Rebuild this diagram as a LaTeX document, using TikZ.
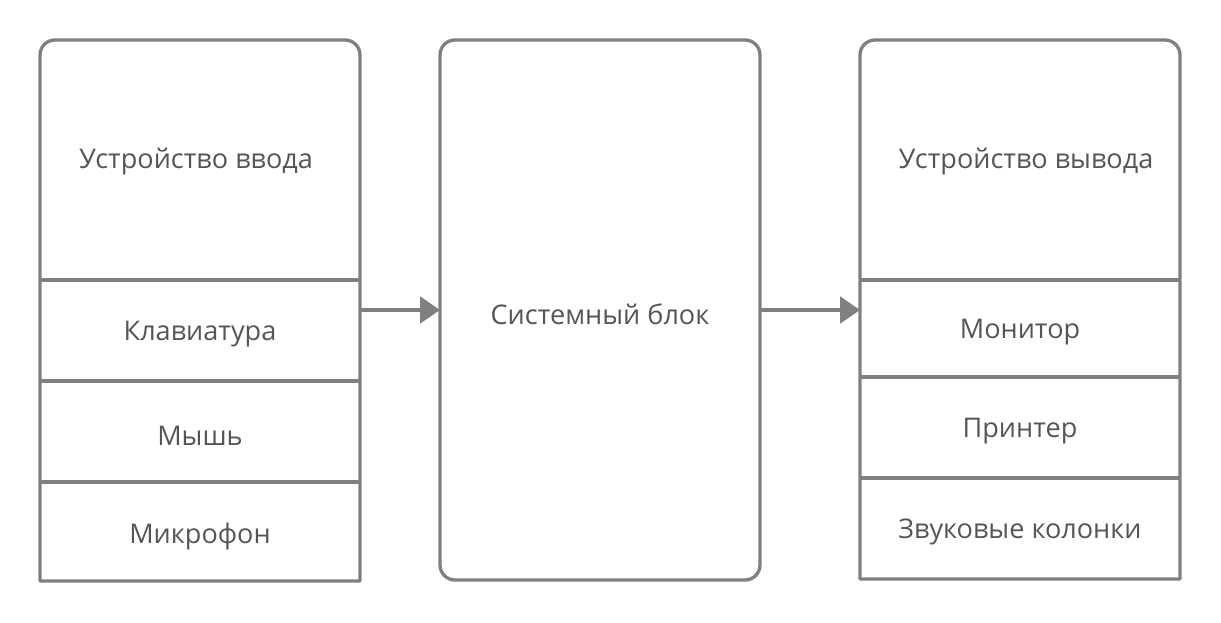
\documentclass[tikz,border=0pt]{standalone}
\usepackage{fontspec}
\setmainfont{Open Sans}
\usetikzlibrary{arrows.meta}
\definecolor{linegray}{HTML}{808080}
\definecolor{textgray}{HTML}{555555}
\tikzset{
  frame/.style={draw=linegray, line width=2.5pt, line join=round},
  lbl/.style={text=textgray, font=\fontsize{20.3}{24}\selectfont, inner sep=0pt, anchor=center},
  conn/.style={draw=linegray, line width=2.5pt, -{Triangle[length=15pt,width=20pt]}},
}
\begin{document}
\begin{tikzpicture}[x=0.75pt,y=-0.75pt]
\useasboundingbox (0,0) rectangle (1221,622);
% left box
\draw[frame] (40,581) -- (40,55) arc[start angle=180,end angle=270,radius=15] -- (345,40) arc[start angle=270,end angle=360,radius=15] -- (360,581) -- cycle;
\draw[frame] (40,280) -- (360,280);
\draw[frame] (40,381) -- (360,381);
\draw[frame] (40,482) -- (360,482);
\coordinate (lin) at (360,310);
% middle box
\draw[frame, rounded corners=11.25pt] (440,40) rectangle (760,580);
\coordinate (min) at (440,310);
\coordinate (mout) at (760,310);
% right box
\draw[frame] (860,579) -- (860,55) arc[start angle=180,end angle=270,radius=15] -- (1165,40) arc[start angle=270,end angle=360,radius=15] -- (1180,579) -- cycle;
\draw[frame] (860,280) -- (1180,280);
\draw[frame] (860,377) -- (1180,377);
\draw[frame] (860,478) -- (1180,478);
\coordinate (rin) at (860,310);
% labels
\node[lbl] (t1) at (196,162) {Устройство ввода};
\node[lbl] (t2) at (200,334) {Клавиатура};
\node[lbl] (t3) at (200,436) {Мышь};
\node[lbl] (t4) at (200,536) {Микрофон};
\node[lbl] (t5) at (600,314) {Системный блок};
\node[lbl] (t6) at (1026,162) {Устройство вывода};
\node[lbl] (t7) at (1020,332) {Монитор};
\node[lbl] (t8) at (1020,431) {Принтер};
\node[lbl] (t9) at (1020,532) {Звуковые колонки};
% connectors
\draw[conn] (lin) -- (min);
\draw[conn] (mout) -- (rin);
\end{tikzpicture}
\end{document}
